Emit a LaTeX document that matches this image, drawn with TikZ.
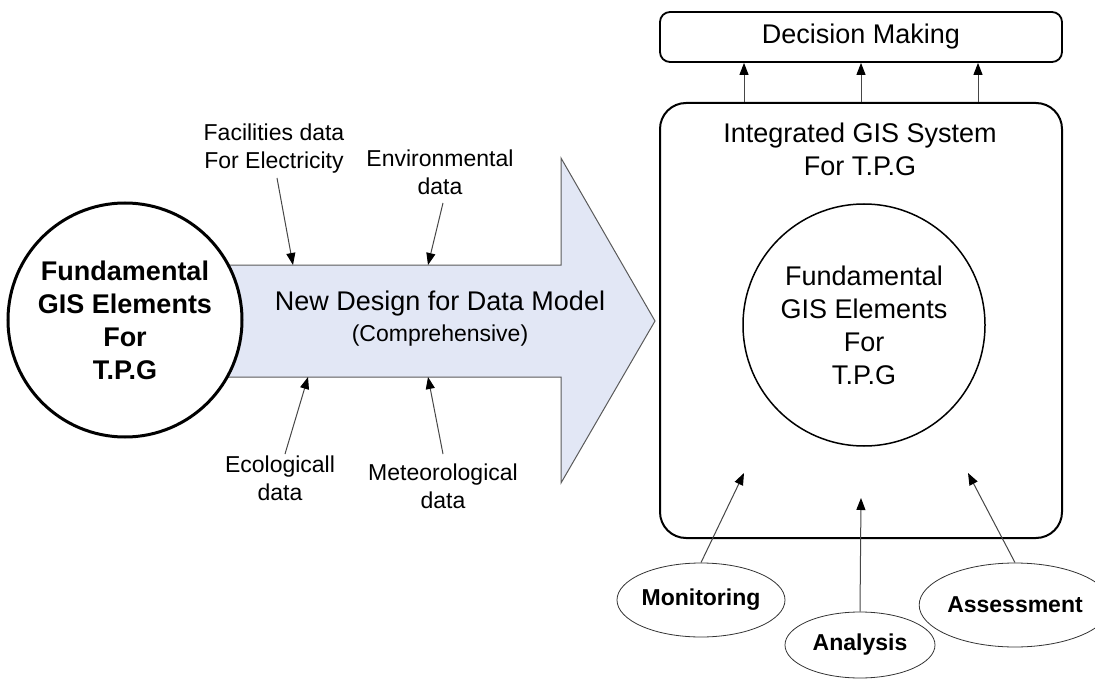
\documentclass[tikz,border=0pt]{standalone}
\usepackage{fontspec}
\setmainfont{Liberation Sans}
\usetikzlibrary{arrows.meta,shapes.geometric}
\definecolor{flowfill}{RGB}{226,231,245}
\definecolor{flowedge}{RGB}{90,90,90}
\definecolor{linkgray}{RGB}{70,70,70}
\begin{document}
\begin{tikzpicture}[x=1pt,y=-1pt,
  bigtxt/.style={font=\fontsize{27}{33}\selectfont, align=center, inner sep=0pt},
  lbltxt/.style={font=\fontsize{23}{28}\selectfont, align=center, inner sep=0pt},
  conn/.style={draw=linkgray, line width=1pt, -{Triangle[length=12pt,width=9pt,color=black]}},
  task/.style={ellipse, draw=black!80, line width=0.8pt, inner sep=0pt,
    font=\fontsize{23}{28}\selectfont\bfseries},
  panel/.style={draw=black, fill=white}
]
\useasboundingbox (0,0) rectangle (1095,679);

% broad flow arrow carrying the data model
\draw[fill=flowfill, draw=flowedge, line width=1pt, line join=miter]
  (200,265) -- (561,265) -- (561,158) -- (655,321) -- (561,483)
  -- (561,377) -- (200,377) -- cycle;
\node[bigtxt] (model) at (440,304) {New Design for Data Model};
\node[lbltxt] (comp) at (440,336) {(Comprehensive)};

% source element circle
\node[circle, panel, line width=3pt, minimum size=234pt, inner sep=0pt,
  font=\fontsize{27}{33}\selectfont\bfseries, align=center]
  (fund) at (125,320) {Fundamental\\GIS Elements\\For\\T.P.G};

% data inputs feeding the flow
\node[lbltxt] (fac) at (274,149) {Facilities data\\For Electricity};
\node[lbltxt] (env) at (440,172) {Environmental\\data};
\node[lbltxt] (eco) at (280,478) {Ecologicall\\data};
\node[lbltxt] (met) at (443,486) {Meteorological\\data};

\coordinate (fac-t) at (277,178);  \coordinate (fac-h) at (293,265);
\coordinate (env-t) at (443,203);  \coordinate (env-h) at (428,265);
\coordinate (eco-t) at (285,454);  \coordinate (eco-h) at (308,377);
\coordinate (met-t) at (443,454);  \coordinate (met-h) at (428,377);
\draw[conn] (fac-t) -- (fac-h);
\draw[conn] (env-t) -- (env-h);
\draw[conn] (eco-t) -- (eco-h);
\draw[conn] (met-t) -- (met-h);

% integrated system and decision layer
\node[panel, rounded corners=10pt, line width=1.8pt, minimum width=402pt,
  minimum height=50pt, font=\fontsize{27}{33}\selectfont] (dec) at (861,37) {Decision Making};
\node[panel, rounded corners=26pt, line width=2pt, minimum width=402pt,
  minimum height=435pt] (sys) at (861,320.5) {};
\node[bigtxt] (systitle) at (860,149) {Integrated GIS System\\For T.P.G};
\node[circle, draw=black, line width=1.5pt, minimum size=242pt, inner sep=0pt,
  font=\fontsize{27}{33}\selectfont, align=center]
  (core) at (864,325) {Fundamental\\GIS Elements\\For\\T.P.G};

\draw[conn] (744,0 |- sys.north) -- (744,0 |- dec.south);
\draw[conn] (861,0 |- sys.north) -- (861,0 |- dec.south);
\draw[conn] (978,0 |- sys.north) -- (978,0 |- dec.south);

% supporting activities
\node[task, minimum width=150pt, minimum height=74pt] (mon) at (701,600) {Monitoring};
\node[task, minimum width=150pt, minimum height=66pt] (ana) at (860,645) {Analysis};
\node[task, minimum width=160pt, minimum height=84pt] (ass) at (1015,605) {Assessment};

\coordinate (mon-h) at (744,473);
\coordinate (ana-h) at (861,498);
\coordinate (ass-h) at (968,473);
\draw[conn] (mon.north) -- (mon-h);
\draw[conn] (ana.north) -- (ana-h);
\draw[conn] (ass.north) -- (ass-h);
\end{tikzpicture}
\end{document}
